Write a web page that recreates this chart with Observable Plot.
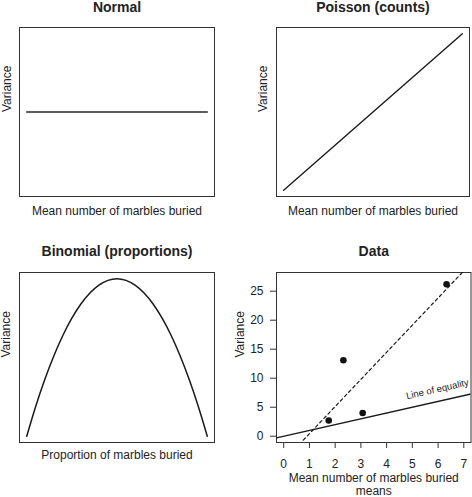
<!DOCTYPE html>
<html>
<head>
<meta charset="utf-8">
<script src="https://cdn.jsdelivr.net/npm/d3@7"></script>
<script src="https://cdn.jsdelivr.net/npm/@observablehq/plot@0.6"></script>
<style>
  html, body { margin: 0; padding: 0; background: #fff; }
  #grid { display: grid; grid-template-columns: 236px 236px; grid-template-rows: 240px 257px; width: 472px; }
  #grid svg { display: block; overflow: visible; }
</style>
</head>
<body>
<div id="grid"><div id="p1"></div><div id="p2"></div><div id="p3"></div><div id="p4"></div></div>
<script>
// ---- data ----
const titles = ["Normal", "Poisson (counts)", "Binomial (proportions)", "Data"];
const yLabel = "Variance";
const xLabelMean = "Mean number of marbles buried";
const xLabelProp = "Proportion of marbles buried";
const xLabelData2 = "means";

const normalX = [0, 1];
const normalY = [1, 1];

const poissonX = [0, 1];
const poissonY = [0, 1];

const binomP = [0, 0.05, 0.1, 0.15, 0.2, 0.25, 0.3, 0.35, 0.4, 0.45, 0.5, 0.55, 0.6, 0.65, 0.7, 0.75, 0.8, 0.85, 0.9, 0.95, 1];
const binomVar = [0, 0.0475, 0.09, 0.1275, 0.16, 0.1875, 0.21, 0.2275, 0.24, 0.2475, 0.25, 0.2475, 0.24, 0.2275, 0.21, 0.1875, 0.16, 0.1275, 0.09, 0.0475, 0];

const dataMeans = [1.75, 2.32, 3.07, 6.33];
const dataVars = [2.7, 13.1, 4.0, 26.2];

const equalityX = [-0.28, 7.28];
const equalityY = [-0.28, 7.28];

const fitX = [0.6, 7.1];
const fitY = [-1.43, 28.97];

const xTicksData = [0, 1, 2, 3, 4, 5, 6, 7];
const yTicksData = [0, 5, 10, 15, 20, 25];
const equalityLabel = "Line of equality";

// ---- helpers ----
const ink = "#1a1a1a";
const txt = "#222";
const font = "'Liberation Sans', Arial, Helvetica, sans-serif";
const zip = (xs, ys) => xs.map((x, i) => ({x, y: ys[i]}));

function decor(title, xlab, opts) {
  const o = Object.assign({titleDy: -19.5, xlabDy: 15, ylabDx: -12.5, xlabAnchor: "middle", lineHeight: 1}, opts || {});
  return [
    Plot.frame({stroke: "#333", strokeWidth: 1}),
    Plot.text([title], {frameAnchor: "top", dy: o.titleDy, lineAnchor: "middle", fontWeight: "bold", fontSize: 14, fill: txt}),
    Plot.text([xlab], {frameAnchor: "bottom", dy: o.xlabDy, lineAnchor: o.xlabAnchor, lineHeight: o.lineHeight, fontSize: 12, fill: txt}),
    Plot.text([yLabel], {frameAnchor: "left", dx: o.ylabDx, rotate: -90, lineAnchor: "middle", fontSize: 12, fill: txt})
  ];
}

const base = {
  width: 236,
  style: {fontFamily: font, fontSize: "12px", color: txt, background: "transparent", overflow: "visible"}
};

// Panel 1: Normal
document.getElementById("p1").appendChild(Plot.plot({
  ...base, height: 240,
  marginLeft: 19, marginRight: 22, marginTop: 27, marginBottom: 44,
  x: {domain: [-0.04, 1.04], axis: null},
  y: {domain: [0, 2], axis: null},
  marks: [
    ...decor(titles[0], xLabelMean),
    Plot.line(zip(normalX, normalY), {x: "x", y: "y", stroke: "#2a2a2a", strokeWidth: 1.6})
  ]
}));

// Panel 2: Poisson
document.getElementById("p2").appendChild(Plot.plot({
  ...base, height: 240,
  marginLeft: 40, marginRight: 3, marginTop: 27, marginBottom: 44,
  x: {domain: [-0.04, 1.04], axis: null},
  y: {domain: [-0.04, 1.04], axis: null},
  marks: [
    ...decor(titles[1], xLabelMean, {ylabDx: -13}),
    Plot.line(zip(poissonX, poissonY), {x: "x", y: "y", stroke: ink, strokeWidth: 1.4})
  ]
}));

// Panel 3: Binomial
document.getElementById("p3").appendChild(Plot.plot({
  ...base, height: 257,
  marginLeft: 19, marginRight: 22, marginTop: 32, marginBottom: 55,
  x: {domain: [-0.04, 1.04], axis: null},
  y: {domain: [-0.01, 0.26], axis: null},
  marks: [
    ...decor(titles[2], xLabelProp, {titleDy: -21, xlabDy: 13, ylabDx: -13}),
    Plot.line(zip(binomP, binomVar), {x: "x", y: "y", stroke: ink, strokeWidth: 1.5, curve: "natural"})
  ]
}));

// Panel 4: Data
document.getElementById("p4").appendChild(Plot.plot({
  ...base, height: 257,
  marginLeft: 40, marginRight: 1.5, marginTop: 32, marginBottom: 55,
  x: {domain: [-0.28, 7.28]},
  y: {domain: [-1.08, 28.22]},
  marks: [
    Plot.axisX(xTicksData, {tickSize: 6, tickPadding: 11, label: null, stroke: "#333", fill: txt, fontSize: 12}),
    Plot.axisY(yTicksData, {tickSize: 6, tickPadding: 7, label: null, stroke: "#333", fill: txt, fontSize: 12}),
    ...decor(titles[3], xLabelMean + "\n" + xLabelData2, {titleDy: -21, xlabDy: 52.5, xlabAnchor: "bottom", lineHeight: 1.12, ylabDx: -36}),
    Plot.line(zip(equalityX, equalityY), {x: "x", y: "y", stroke: ink, strokeWidth: 1.3, clip: true}),
    Plot.line(zip(fitX, fitY), {x: "x", y: "y", stroke: ink, strokeWidth: 1.2, strokeDasharray: "3,3", clip: true}),
    Plot.dot(zip(dataMeans, dataVars), {x: "x", y: "y", r: 3.3, fill: "#111", stroke: null}),
    Plot.text([{x: 6.0, y: 6.0}], {x: "x", y: "y", text: () => equalityLabel, rotate: -12.7, textAnchor: "middle", lineAnchor: "bottom", dy: -9.2, fontSize: 9.5, fill: txt})
  ]
}));
</script>
</body>
</html>
